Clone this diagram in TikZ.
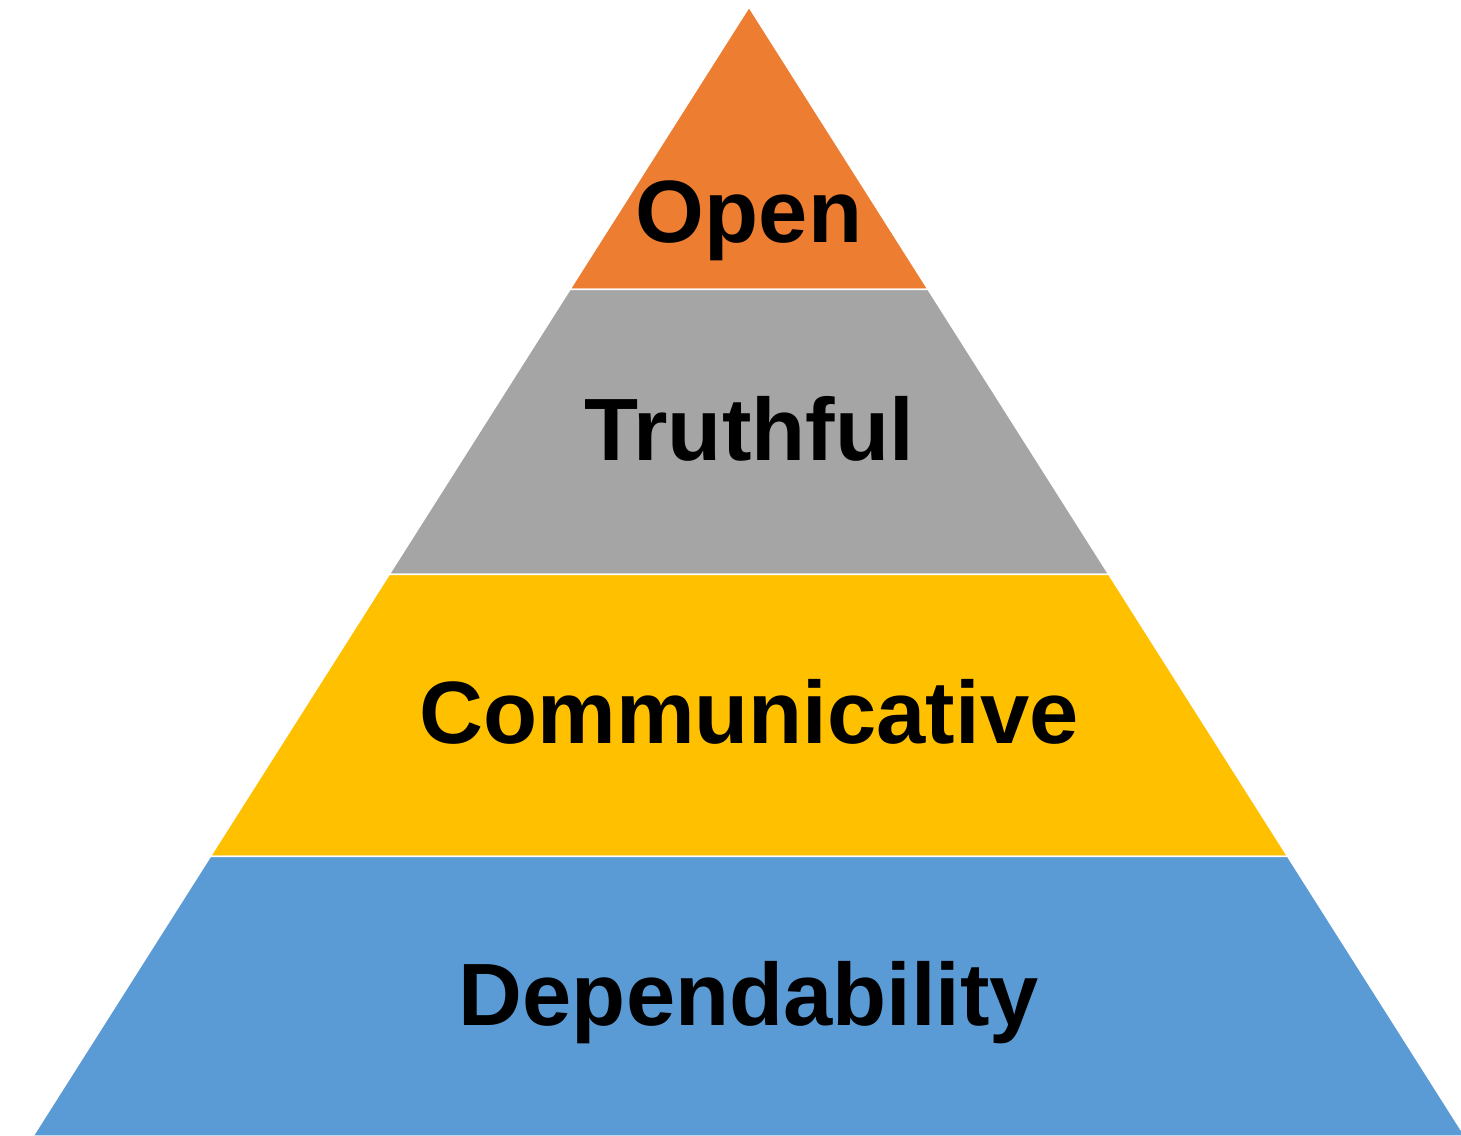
\documentclass[tikz,border=0pt]{standalone}
\usepackage{fontspec}
\setmainfont{Liberation Sans}
\usetikzlibrary{calc}

\definecolor{openorange}{HTML}{ED7D31}
\definecolor{truthgray}{HTML}{A5A5A5}
\definecolor{commyellow}{HTML}{FFC000}
\definecolor{depblue}{HTML}{5B9BD5}

\tikzstyle{band} = [draw=white, line width=1.5pt, line join=miter]
\tikzstyle{tier} = [inner sep=0pt, anchor=base, font=\fontsize{88.5}{96}\selectfont\bfseries]

\begin{document}
\begin{tikzpicture}[x=1pt,y=-1pt]
  \useasboundingbox (0,0) rectangle (1461,1135);

  \coordinate (top) at (749,7);
  \coordinate (bl) at (33,1136);
  \coordinate (br) at (1465,1136);

  % four bands, split where the white lines run
  \foreach \a/\b/\col in {0/0.2502/openorange, 0.2502/0.5025/truthgray, 0.5025/0.7524/commyellow, 0.7524/1/depblue}
    \fill[band, fill=\col] ($(top)!\a!(bl)$) -- ($(top)!\b!(bl)$) -- ($(top)!\b!(br)$) -- ($(top)!\a!(br)$) -- cycle;

  \node[tier] (open) at (749,242) {Open};
  \node[tier] (truth) at (749,460) {Truthful};
  \node[tier] (comm) at (749,743) {Communicative};
  \node[tier] (dep) at (749,1025) {Dependability};
\end{tikzpicture}
\end{document}
